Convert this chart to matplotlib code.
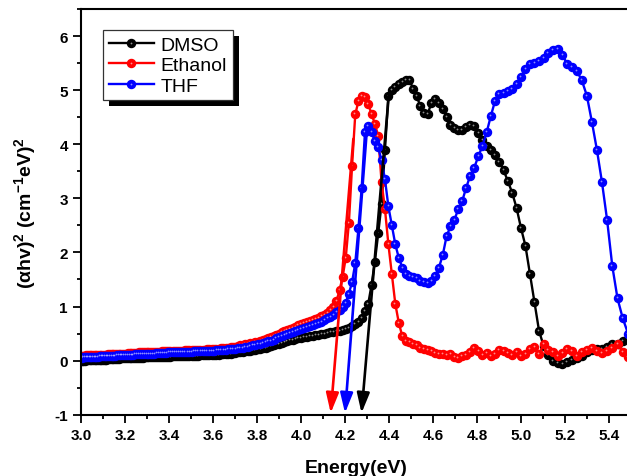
import numpy as np
import matplotlib
matplotlib.use("Agg")
import matplotlib.pyplot as plt
from matplotlib import transforms
from matplotlib import patheffects
from matplotlib.legend_handler import HandlerTuple

plt.rcParams['font.family'] = ['Liberation Sans', 'DejaVu Sans']
plt.rcParams['axes.unicode_minus'] = False
plt.rcParams['mathtext.fontset'] = 'custom'
plt.rcParams['mathtext.rm'] = 'Liberation Sans:bold'
plt.rcParams['mathtext.it'] = 'Liberation Sans:bold'
plt.rcParams['mathtext.bf'] = 'Liberation Sans:bold'

# spectra recorded every 1 nm, 414 nm down to 225 nm
wavelength_nm = np.arange(414, 224, -1)
energy = 1240.0 / wavelength_nm

# (alpha h nu)^2, one row of ten per 10 nm
dmso = [
    0.00, 0.00, 0.00, 0.00, 0.01, 0.01, 0.01, 0.01, 0.01, 0.01,
    0.01, 0.02, 0.02, 0.02, 0.02, 0.02, 0.02, 0.03, 0.03, 0.03,
    0.03, 0.03, 0.03, 0.03, 0.04, 0.04, 0.04, 0.04, 0.04, 0.04,
    0.05, 0.05, 0.05, 0.05, 0.05, 0.05, 0.05, 0.06, 0.06, 0.06,
    0.06, 0.06, 0.06, 0.06, 0.07, 0.07, 0.07, 0.07, 0.07, 0.07,
    0.07, 0.08, 0.08, 0.08, 0.08, 0.08, 0.08, 0.08, 0.09, 0.09,
    0.09, 0.09, 0.09, 0.09, 0.10, 0.10, 0.10, 0.10, 0.10, 0.11,
    0.11, 0.11, 0.11, 0.12, 0.12, 0.12, 0.13, 0.13, 0.14, 0.14,
    0.15, 0.15, 0.16, 0.17, 0.17, 0.18, 0.19, 0.20, 0.21, 0.22,
    0.23, 0.24, 0.25, 0.27, 0.28, 0.30, 0.31, 0.33, 0.35, 0.37,
    0.38, 0.39, 0.40, 0.41, 0.42, 0.43, 0.44, 0.45, 0.46, 0.47,
    0.48, 0.49, 0.50, 0.51, 0.52, 0.53, 0.54, 0.55, 0.57, 0.59,
    0.61, 0.64, 0.68, 0.72, 0.78, 0.92, 1.05, 1.40, 1.83, 2.35,
    2.90, 3.90, 4.90, 5.00, 5.06, 5.12, 5.16, 5.18, 5.19, 5.03,
    4.90, 4.70, 4.57, 4.56, 4.76, 4.83, 4.76, 4.66, 4.50, 4.36,
    4.30, 4.27, 4.27, 4.31, 4.35, 4.33, 4.20, 4.07, 3.97, 3.89,
    3.80, 3.68, 3.52, 3.32, 3.10, 2.82, 2.45, 2.12, 1.60, 1.08,
    0.55, 0.27, 0.11, 0.00, -0.05, -0.07, -0.03, 0.02, 0.05, 0.09,
    0.15, 0.20, 0.22, 0.21, 0.25, 0.30, 0.31, 0.36, 0.40, 0.42,
]
ethanol = [
    0.09, 0.09, 0.09, 0.09, 0.10, 0.10, 0.10, 0.10, 0.10, 0.10,
    0.10, 0.11, 0.11, 0.11, 0.11, 0.11, 0.11, 0.12, 0.12, 0.12,
    0.12, 0.12, 0.12, 0.13, 0.13, 0.13, 0.13, 0.13, 0.14, 0.14,
    0.14, 0.14, 0.14, 0.14, 0.15, 0.15, 0.15, 0.15, 0.15, 0.15,
    0.16, 0.16, 0.16, 0.16, 0.16, 0.16, 0.17, 0.17, 0.17, 0.17,
    0.17, 0.17, 0.18, 0.18, 0.18, 0.18, 0.18, 0.19, 0.19, 0.19,
    0.19, 0.19, 0.19, 0.20, 0.20, 0.20, 0.20, 0.21, 0.21, 0.21,
    0.21, 0.22, 0.22, 0.23, 0.23, 0.24, 0.24, 0.25, 0.25, 0.26,
    0.27, 0.28, 0.29, 0.30, 0.31, 0.32, 0.33, 0.34, 0.35, 0.37,
    0.38, 0.40, 0.42, 0.44, 0.46, 0.48, 0.50, 0.52, 0.54, 0.57,
    0.59, 0.61, 0.63, 0.65, 0.67, 0.69, 0.71, 0.73, 0.75, 0.77,
    0.79, 0.82, 0.85, 0.88, 0.93, 0.99, 1.10, 1.30, 1.55, 1.90,
    2.55, 3.60, 4.55, 4.80, 4.90, 4.88, 4.74, 4.56, 4.38, 4.15,
    3.30, 2.80, 2.15, 1.60, 1.05, 0.70, 0.45, 0.37, 0.34, 0.31,
    0.28, 0.24, 0.22, 0.20, 0.17, 0.14, 0.12, 0.13, 0.10, 0.12,
    0.06, 0.04, 0.08, 0.10, 0.15, 0.24, 0.18, 0.10, 0.14, 0.09,
    0.12, 0.20, 0.17, 0.14, 0.10, 0.16, 0.09, 0.13, 0.22, 0.26,
    0.12, 0.30, 0.20, 0.16, 0.08, 0.14, 0.22, 0.17, 0.08, 0.16,
    0.20, 0.23, 0.17, 0.14, 0.18, 0.24, 0.30, 0.16, 0.06, 0.12,
]
thf = [
    0.05, 0.05, 0.06, 0.06, 0.06, 0.06, 0.06, 0.07, 0.07, 0.07,
    0.07, 0.07, 0.08, 0.08, 0.08, 0.08, 0.08, 0.09, 0.09, 0.09,
    0.09, 0.09, 0.10, 0.10, 0.10, 0.10, 0.10, 0.11, 0.11, 0.11,
    0.11, 0.11, 0.12, 0.12, 0.12, 0.12, 0.12, 0.13, 0.13, 0.13,
    0.13, 0.13, 0.13, 0.14, 0.14, 0.14, 0.14, 0.14, 0.14, 0.15,
    0.15, 0.15, 0.15, 0.15, 0.15, 0.16, 0.16, 0.16, 0.16, 0.16,
    0.16, 0.17, 0.17, 0.17, 0.17, 0.17, 0.18, 0.18, 0.18, 0.18,
    0.18, 0.19, 0.19, 0.19, 0.20, 0.20, 0.21, 0.21, 0.22, 0.22,
    0.23, 0.24, 0.24, 0.25, 0.26, 0.27, 0.28, 0.29, 0.30, 0.31,
    0.33, 0.34, 0.36, 0.37, 0.39, 0.41, 0.43, 0.45, 0.47, 0.49,
    0.51, 0.53, 0.55, 0.57, 0.59, 0.61, 0.62, 0.64, 0.66, 0.68,
    0.70, 0.72, 0.75, 0.78, 0.81, 0.85, 0.90, 0.94, 1.00, 1.07,
    1.24, 1.45, 1.80, 2.45, 3.20, 4.22, 4.33, 4.22, 4.06, 3.94,
    3.70, 3.35, 2.85, 2.50, 2.15, 1.90, 1.72, 1.60, 1.57, 1.55,
    1.52, 1.48, 1.45, 1.44, 1.48, 1.57, 1.72, 1.95, 2.30, 2.48,
    2.60, 2.80, 2.95, 3.20, 3.42, 3.57, 3.78, 3.97, 4.22, 4.52,
    4.80, 4.93, 4.95, 4.98, 5.02, 5.12, 5.25, 5.40, 5.48, 5.50,
    5.53, 5.60, 5.68, 5.75, 5.76, 5.65, 5.48, 5.42, 5.35, 5.18,
    4.90, 4.42, 3.90, 3.30, 2.60, 1.75, 1.15, 0.78, 0.50, 0.35,
]

labels = ['DMSO', 'Ethanol', 'THF']
colors = ['#000000', '#ff0000', '#0000ff']
series = [dmso, ethanol, thf]

# tangent extrapolations to the energy axis: (E, y) start, band-gap energy
tangent_start = [(4.40, 4.95), (4.238, 4.10), (4.30, 4.30)]
band_gap = [4.275, 4.135, 4.20]

fig = plt.figure(figsize=(6.27, 4.77), dpi=100)
ax = fig.add_axes([0.1292, 0.1285, 0.8772, 0.8505])

# small offset for the glossy spot on each ball marker
shine = transforms.offset_copy(ax.transData, fig=fig, x=-0.8, y=1.0, units='dots')

handles = []
for y, c, lab in zip(series, colors, labels):
    line, = ax.plot(energy, y, '-o', color=c, lw=1.7, ms=5.8,
                    mec=c, mfc=c, label=lab)
    hi, = ax.plot(energy, y, 'o', color='white', ms=1.3, alpha=0.55,
                  mec='none', transform=shine)
    handles.append((line, hi))

for (x0, y0), eg, c in zip(tangent_start, band_gap, colors):
    ax.annotate('', xy=(eg, -0.97), xytext=(x0, y0),
                arrowprops=dict(arrowstyle='-|>,head_length=1.2,head_width=0.38',
                                color=c, lw=1.9, mutation_scale=10,
                                shrinkA=0, shrinkB=0),
                zorder=5)

ax.set_xlim(3.0, 5.5)
ax.set_ylim(-1, 6.5)
ax.set_xticks(np.arange(3.0, 5.41, 0.2))
ax.set_xticks(np.arange(3.0, 5.51, 0.1), minor=True)
ax.set_yticks(np.arange(-1, 6.1, 1))
ax.set_yticks(np.arange(-1, 6.6, 0.5), minor=True)
ax.xaxis.set_major_formatter(plt.FormatStrFormatter('%.1f'))
ax.yaxis.set_major_formatter(plt.FormatStrFormatter('%d'))

ax.tick_params(which='major', direction='out', length=6, width=1.3, pad=3.5,
               labelsize=11)
ax.tick_params(which='minor', direction='out', length=3, width=1.3)
for lab in ax.get_xticklabels() + ax.get_yticklabels():
    lab.set_fontweight('bold')
for s in ax.spines.values():
    s.set_linewidth(1.5)

ax.set_xlabel('Energy(eV)', fontsize=14, fontweight='bold', labelpad=12)
ax.set_ylabel(r'($\alpha$hv)$^2$ (cm$^{-1}$eV)$^2$', fontsize=14,
              fontweight='bold', labelpad=12)

leg = ax.legend(handles, labels, handler_map={tuple: HandlerTuple(ndivide=1, pad=0)},
                loc='upper left', bbox_to_anchor=(0.04, 0.948), borderaxespad=0,
                fontsize=14, frameon=True, fancybox=False, numpoints=1,
                framealpha=1.0, handlelength=2.3, handletextpad=0.36,
                labelspacing=0.15, borderpad=0.3)
frame = leg.get_frame()
frame.set_facecolor('white')
frame.set_edgecolor('#333333')
frame.set_linewidth(0.9)
frame.set_path_effects([patheffects.withSimplePatchShadow(offset=(4.3, -4.3),
                                                          shadow_rgbFace='k',
                                                          alpha=1.0)])

fig.savefig('out.png', dpi=100)
